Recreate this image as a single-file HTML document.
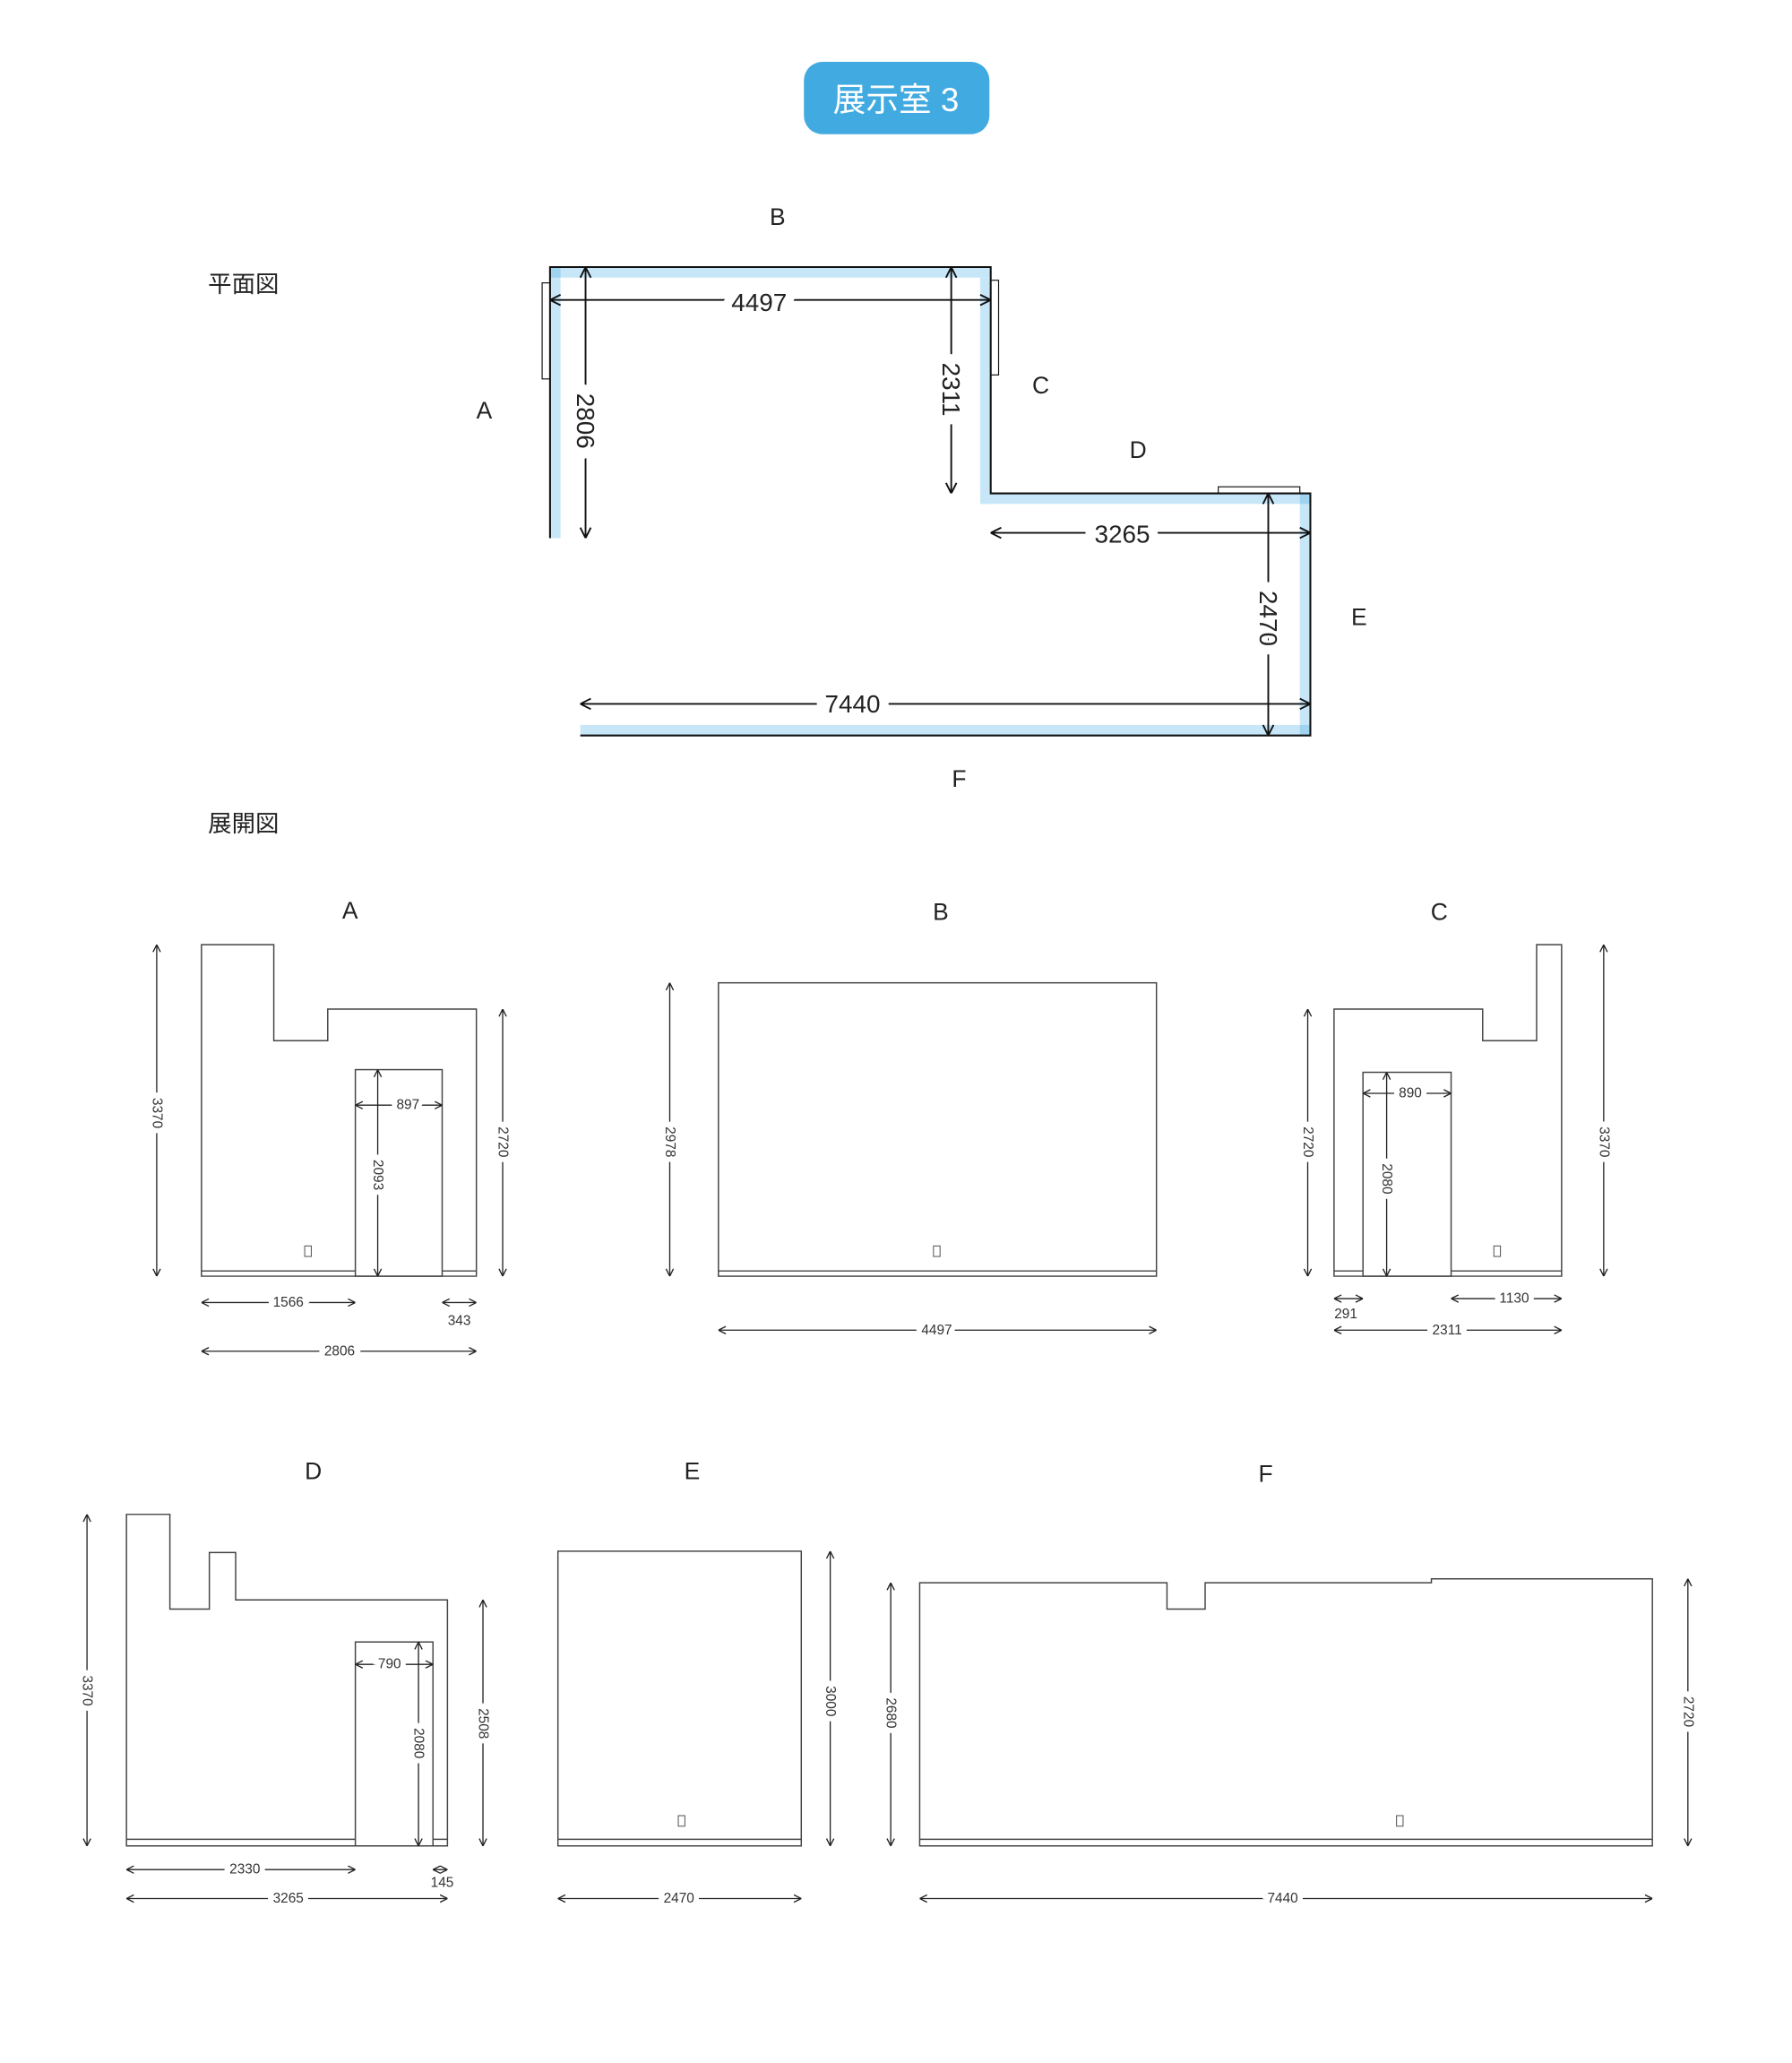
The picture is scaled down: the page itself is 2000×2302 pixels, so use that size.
<!DOCTYPE html>
<html><head><meta charset="utf-8"><style>
html,body{margin:0;padding:0;background:#fff}
svg{display:block}
text{font-family:"Liberation Sans","Noto Sans CJK JP",sans-serif}
.w{fill:none;stroke:#444;stroke-width:1}
.d{stroke:#222;stroke-width:0.9;fill:none;marker-start:url(#a);marker-end:url(#a)}
.D{stroke:#111;stroke-width:1.3;fill:none;marker-start:url(#A);marker-end:url(#A)}
.t{font-size:10.5px;fill:#333;text-anchor:middle;dominant-baseline:central;stroke:#fff;stroke-width:8px;paint-order:stroke}
.T{font-size:19px;fill:#222;text-anchor:middle;dominant-baseline:central;stroke:#fff;stroke-width:14px;paint-order:stroke}
.L{font-size:18px;fill:#222;text-anchor:middle;dominant-baseline:central}
.n{font-size:10.5px;fill:#333;text-anchor:middle;dominant-baseline:central}
</style></head><body>
<svg width="2000" height="2302" viewBox="0 0 1362 1568" xmlns="http://www.w3.org/2000/svg">
<defs>
<marker id="a" viewBox="0 0 10 10" refX="10" refY="5" markerWidth="7" markerHeight="7" orient="auto-start-reverse" markerUnits="userSpaceOnUse"><path d="M2,1 L10,5 L2,9" fill="none" stroke="#222" stroke-width="1.3"/></marker>
<marker id="A" viewBox="0 0 10 10" refX="10" refY="5" markerWidth="10" markerHeight="10" orient="auto-start-reverse" markerUnits="userSpaceOnUse"><path d="M2,1 L10,5 L2,9" fill="none" stroke="#111" stroke-width="1.3"/></marker>
</defs>
<rect x="611" y="47" width="141" height="55" rx="14" fill="#41aae0"/>
<text x="681" y="76" font-size="25" fill="#fff" text-anchor="middle" dominant-baseline="central">展示室 3</text>
<text x="158" y="216" font-size="18" fill="#222" dominant-baseline="central">平面図</text>
<text x="158" y="626" font-size="18" fill="#222" dominant-baseline="central">展開図</text>

<!-- plan -->
<g fill="#c7e7f8">
<rect x="418" y="203" width="8" height="206"/>
<rect x="418" y="203" width="335" height="8"/>
<rect x="745" y="211" width="8" height="172"/>
<rect x="745" y="375" width="251" height="8"/>
<rect x="988" y="375" width="8" height="184"/>
<rect x="441" y="551" width="555" height="8"/>
</g>
<g fill="#9fd4f1"><rect x="418" y="203" width="8" height="8"/><rect x="988" y="375" width="8" height="8"/><rect x="988" y="551" width="8" height="8"/></g>
<path d="M418,409 V203 H753 V375 H996 V559 H441" fill="none" stroke="#111" stroke-width="1.4"/>
<rect x="412" y="215" width="6" height="73" fill="none" stroke="#111" stroke-width="0.8"/>
<rect x="753" y="213" width="6" height="72" fill="none" stroke="#111" stroke-width="0.8"/>
<rect x="926" y="370" width="62" height="5" fill="none" stroke="#111" stroke-width="0.8"/>
<line class="D" x1="418" y1="228" x2="753" y2="228"/><text class="T" x="577" y="230">4497</text>
<line class="D" x1="445" y1="203" x2="445" y2="409"/><text class="T" x="445" y="320" transform="rotate(90 445 320)">2806</text>
<line class="D" x1="723" y1="203" x2="723" y2="375"/><text class="T" x="723" y="296" transform="rotate(90 723 296)">2311</text>
<line class="D" x1="753" y1="405" x2="996" y2="405"/><text class="T" x="853" y="406">3265</text>
<line class="D" x1="964" y1="375" x2="964" y2="559"/><text class="T" x="964" y="470" transform="rotate(90 964 470)">2470</text>
<line class="D" x1="441" y1="535" x2="996" y2="535"/><text class="T" x="648" y="535">7440</text>
<text class="L" x="591" y="165">B</text><text class="L" x="368" y="312">A</text>
<text class="L" x="791" y="293">C</text><text class="L" x="865" y="342">D</text>
<text class="L" x="1033" y="469">E</text><text class="L" x="729" y="592">F</text>

<!-- A -->
<text class="L" x="266" y="692">A</text>
<path class="w" d="M153,718 H208 V791 H249 V767 H362 V970 H153 Z"/>
<path class="w" d="M153,966 H270 M336,966 H362"/>
<rect class="w" x="270" y="813" width="66" height="157"/>
<rect x="231.5" y="947" width="5" height="8" fill="none" stroke="#555" stroke-width="0.7"/>
<line class="d" x1="119" y1="718" x2="119" y2="970"/><text class="t" x="119" y="846" transform="rotate(90 119 846)">3370</text>
<line class="d" x1="382" y1="767" x2="382" y2="970"/><text class="t" x="382" y="868" transform="rotate(90 382 868)">2720</text>
<line class="d" x1="287" y1="813" x2="287" y2="970"/><text class="t" x="287" y="893" transform="rotate(90 287 893)">2093</text>
<line class="d" x1="270" y1="840" x2="336" y2="840"/><text class="t" x="310" y="840">897</text>
<line class="d" x1="153" y1="990" x2="270" y2="990"/><text class="t" x="219" y="990">1566</text>
<line class="d" x1="336" y1="990" x2="362" y2="990"/><text class="n" x="349" y="1004">343</text>
<line class="d" x1="153" y1="1027" x2="362" y2="1027"/><text class="t" x="258" y="1027">2806</text>

<!-- B -->
<text class="L" x="715" y="693">B</text>
<rect class="w" x="546" y="747" width="333" height="223"/>
<path class="w" d="M546,966 H879"/>
<rect x="709.5" y="947" width="5" height="8" fill="none" stroke="#555" stroke-width="0.7"/>
<line class="d" x1="509" y1="747" x2="509" y2="970"/><text class="t" x="509" y="868" transform="rotate(90 509 868)">2978</text>
<line class="d" x1="546" y1="1011" x2="879" y2="1011"/><text class="t" x="712" y="1011">4497</text>

<!-- C -->
<text class="L" x="1094" y="693">C</text>
<path class="w" d="M1014,767 H1127 V791 H1168 V718 H1187 V970 H1014 Z"/>
<path class="w" d="M1014,966 H1036 M1103,966 H1187"/>
<rect class="w" x="1036" y="815" width="67" height="155"/>
<rect x="1135.5" y="947" width="5" height="8" fill="none" stroke="#555" stroke-width="0.7"/>
<line class="d" x1="994" y1="767" x2="994" y2="970"/><text class="t" x="994" y="868" transform="rotate(90 994 868)">2720</text>
<line class="d" x1="1219" y1="718" x2="1219" y2="970"/><text class="t" x="1219" y="868" transform="rotate(90 1219 868)">3370</text>
<line class="d" x1="1036" y1="831" x2="1103" y2="831"/><text class="t" x="1072" y="831">890</text>
<line class="d" x1="1054" y1="815" x2="1054" y2="970"/><text class="t" x="1054" y="896" transform="rotate(90 1054 896)">2080</text>
<line class="d" x1="1014" y1="987" x2="1036" y2="987"/><text class="n" x="1023" y="999">291</text>
<line class="d" x1="1103" y1="987" x2="1187" y2="987"/><text class="t" x="1151" y="987">1130</text>
<line class="d" x1="1014" y1="1011" x2="1187" y2="1011"/><text class="t" x="1100" y="1011">2311</text>

<!-- D -->
<text class="L" x="238" y="1118">D</text>
<path class="w" d="M96,1151 H129 V1223 H159 V1180 H179 V1216 H340 V1403 H96 Z"/>
<path class="w" d="M96,1398 H270 M329,1398 H340"/>
<rect class="w" x="270" y="1248" width="59" height="155"/>
<line class="d" x1="66" y1="1151" x2="66" y2="1403"/><text class="t" x="66" y="1285" transform="rotate(90 66 1285)">3370</text>
<line class="d" x1="367" y1="1216" x2="367" y2="1403"/><text class="t" x="367" y="1310" transform="rotate(90 367 1310)">2508</text>
<line class="d" x1="318" y1="1248" x2="318" y2="1403"/><text class="t" x="318" y="1325" transform="rotate(90 318 1325)">2080</text>
<line class="d" x1="270" y1="1265" x2="329" y2="1265"/><text class="t" x="296" y="1265">790</text>
<line class="d" x1="96" y1="1421" x2="270" y2="1421"/><text class="t" x="186" y="1421">2330</text>
<line class="d" x1="329" y1="1421" x2="340" y2="1421"/><text class="n" x="336" y="1431">145</text>
<line class="d" x1="96" y1="1443" x2="340" y2="1443"/><text class="t" x="219" y="1443">3265</text>

<!-- E -->
<text class="L" x="526" y="1118">E</text>
<rect class="w" x="424" y="1179" width="185" height="224"/>
<path class="w" d="M424,1398 H609"/>
<rect x="515.5" y="1380" width="5" height="8" fill="none" stroke="#555" stroke-width="0.7"/>
<line class="d" x1="631" y1="1179" x2="631" y2="1403"/><text class="t" x="631" y="1293" transform="rotate(90 631 1293)">3000</text>
<line class="d" x1="424" y1="1443" x2="609" y2="1443"/><text class="t" x="516" y="1443">2470</text>

<!-- F -->
<text class="L" x="962" y="1120">F</text>
<path class="w" d="M699,1203 H887 V1223 H916 V1203 H1088 V1200 H1256 V1403 H699 Z"/>
<path class="w" d="M699,1398 H1256"/>
<rect x="1061.5" y="1380" width="5" height="8" fill="none" stroke="#555" stroke-width="0.7"/>
<line class="d" x1="677" y1="1203" x2="677" y2="1403"/><text class="t" x="677" y="1302" transform="rotate(90 677 1302)">2680</text>
<line class="d" x1="1283" y1="1200" x2="1283" y2="1403"/><text class="t" x="1283" y="1301" transform="rotate(90 1283 1301)">2720</text>
<line class="d" x1="699" y1="1443" x2="1256" y2="1443"/><text class="t" x="975" y="1443">7440</text>
</svg>
</body></html>
